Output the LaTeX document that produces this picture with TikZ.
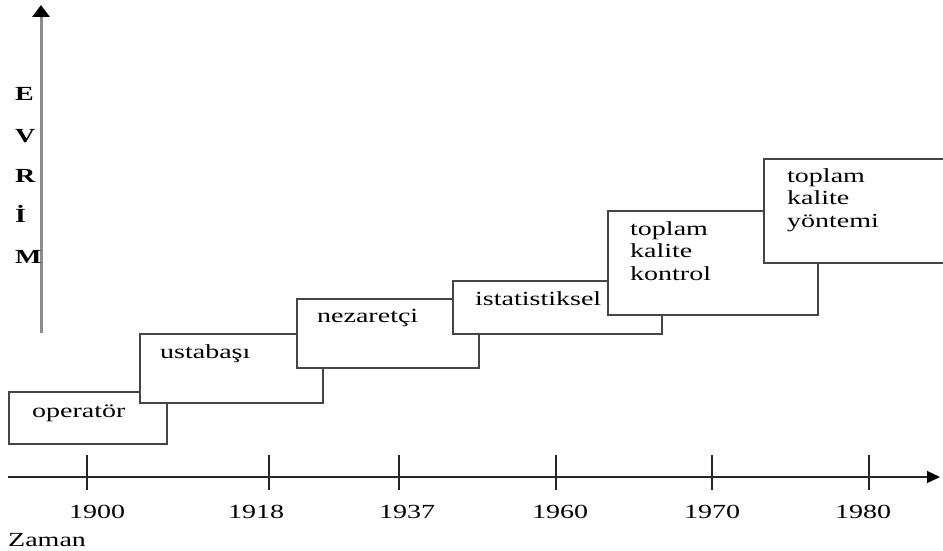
\documentclass[tikz,border=0pt]{standalone}
\usepackage{fontspec}
\setmainfont{Liberation Serif}[FakeStretch=1.4]
\usetikzlibrary{arrows.meta}
\definecolor{boxgray}{HTML}{454545}
\definecolor{axisgray}{HTML}{8C8C8C}
\begin{document}
\begin{tikzpicture}[x=1pt,y=-1pt,
  box/.style={draw=boxgray, line width=1.8pt, fill=white, inner sep=0pt, anchor=north west},
  lbl/.style={inner sep=0pt, anchor=base west, font=\fontsize{20}{22.5}\selectfont},
  evr/.style={inner sep=0pt, anchor=base west, font=\fontsize{20}{22.5}\selectfont\bfseries},
  year/.style={inner sep=0pt, anchor=base, font=\fontsize{20}{22.5}\selectfont},
  tick/.style={draw=black!85, line width=1.5pt}]
\useasboundingbox (0,0) rectangle (943,551);
\clip (0,0) rectangle (943,551);
% vertical axis
\coordinate (vb) at (41,333);
\coordinate (vt) at (41,5);
\draw[axisgray, line width=3pt, -{Triangle[length=12pt,width=17pt,color=black]}] (vb) -- (vt);
\node[evr] (e1) at (15,100) {E};
\node[evr] (e2) at (15,142) {V};
\node[evr] (e3) at (15,182) {R};
\node[evr] (e4) at (15,222) {İ};
\node[evr] (e5) at (15,263) {M};
% boxes
\node[box, minimum width=158pt, minimum height=52pt] (b1) at (8,391) {};
\node[lbl] (t1) at (32,417) {operatör};
\node[box, minimum width=183pt, minimum height=69pt] (b2) at (139,333) {};
\node[lbl] (t2) at (160,358) {ustabaşı};
\node[box, minimum width=182pt, minimum height=69pt] (b3) at (296,298) {};
\node[lbl] (t3) at (317,322) {nezaretçi};
\node[box, minimum width=209pt, minimum height=53pt] (b4) at (452,280) {};
\node[lbl] (t4) at (475,305) {istatistiksel};
\node[box, minimum width=210pt, minimum height=104pt] (b5) at (607,210) {};
\node[lbl] (t5) at (630,235) {\vtop{\hbox{toplam}\hbox{kalite}\hbox{kontrol}}};
\node[box, minimum width=200pt, minimum height=104pt] (b6) at (763,158) {};
\node[lbl] (t6) at (787,182) {\vtop{\hbox{toplam}\hbox{kalite}\hbox{yöntemi}}};
% time axis
\coordinate (hs) at (8,477);
\coordinate (he) at (940,477);
\draw[black!85, line width=1.3pt, -{Triangle[length=13pt,width=12pt,color=black]}] (hs) -- (he);
\foreach \x/\yr/\lx [count=\i] in {87/1900/97, 269/1918/256, 399/1937/407, 556/1960/560, 712/1970/712, 869/1980/863}{
  \coordinate (ta\i) at (\x,455);
  \coordinate (tb\i) at (\x,490);
  \draw[tick] (ta\i) -- (tb\i);
  \node[year] (y\i) at (\lx,518) {\yr};
}
\node[lbl] (zaman) at (8,546) {Zaman};
\end{tikzpicture}
\end{document}
